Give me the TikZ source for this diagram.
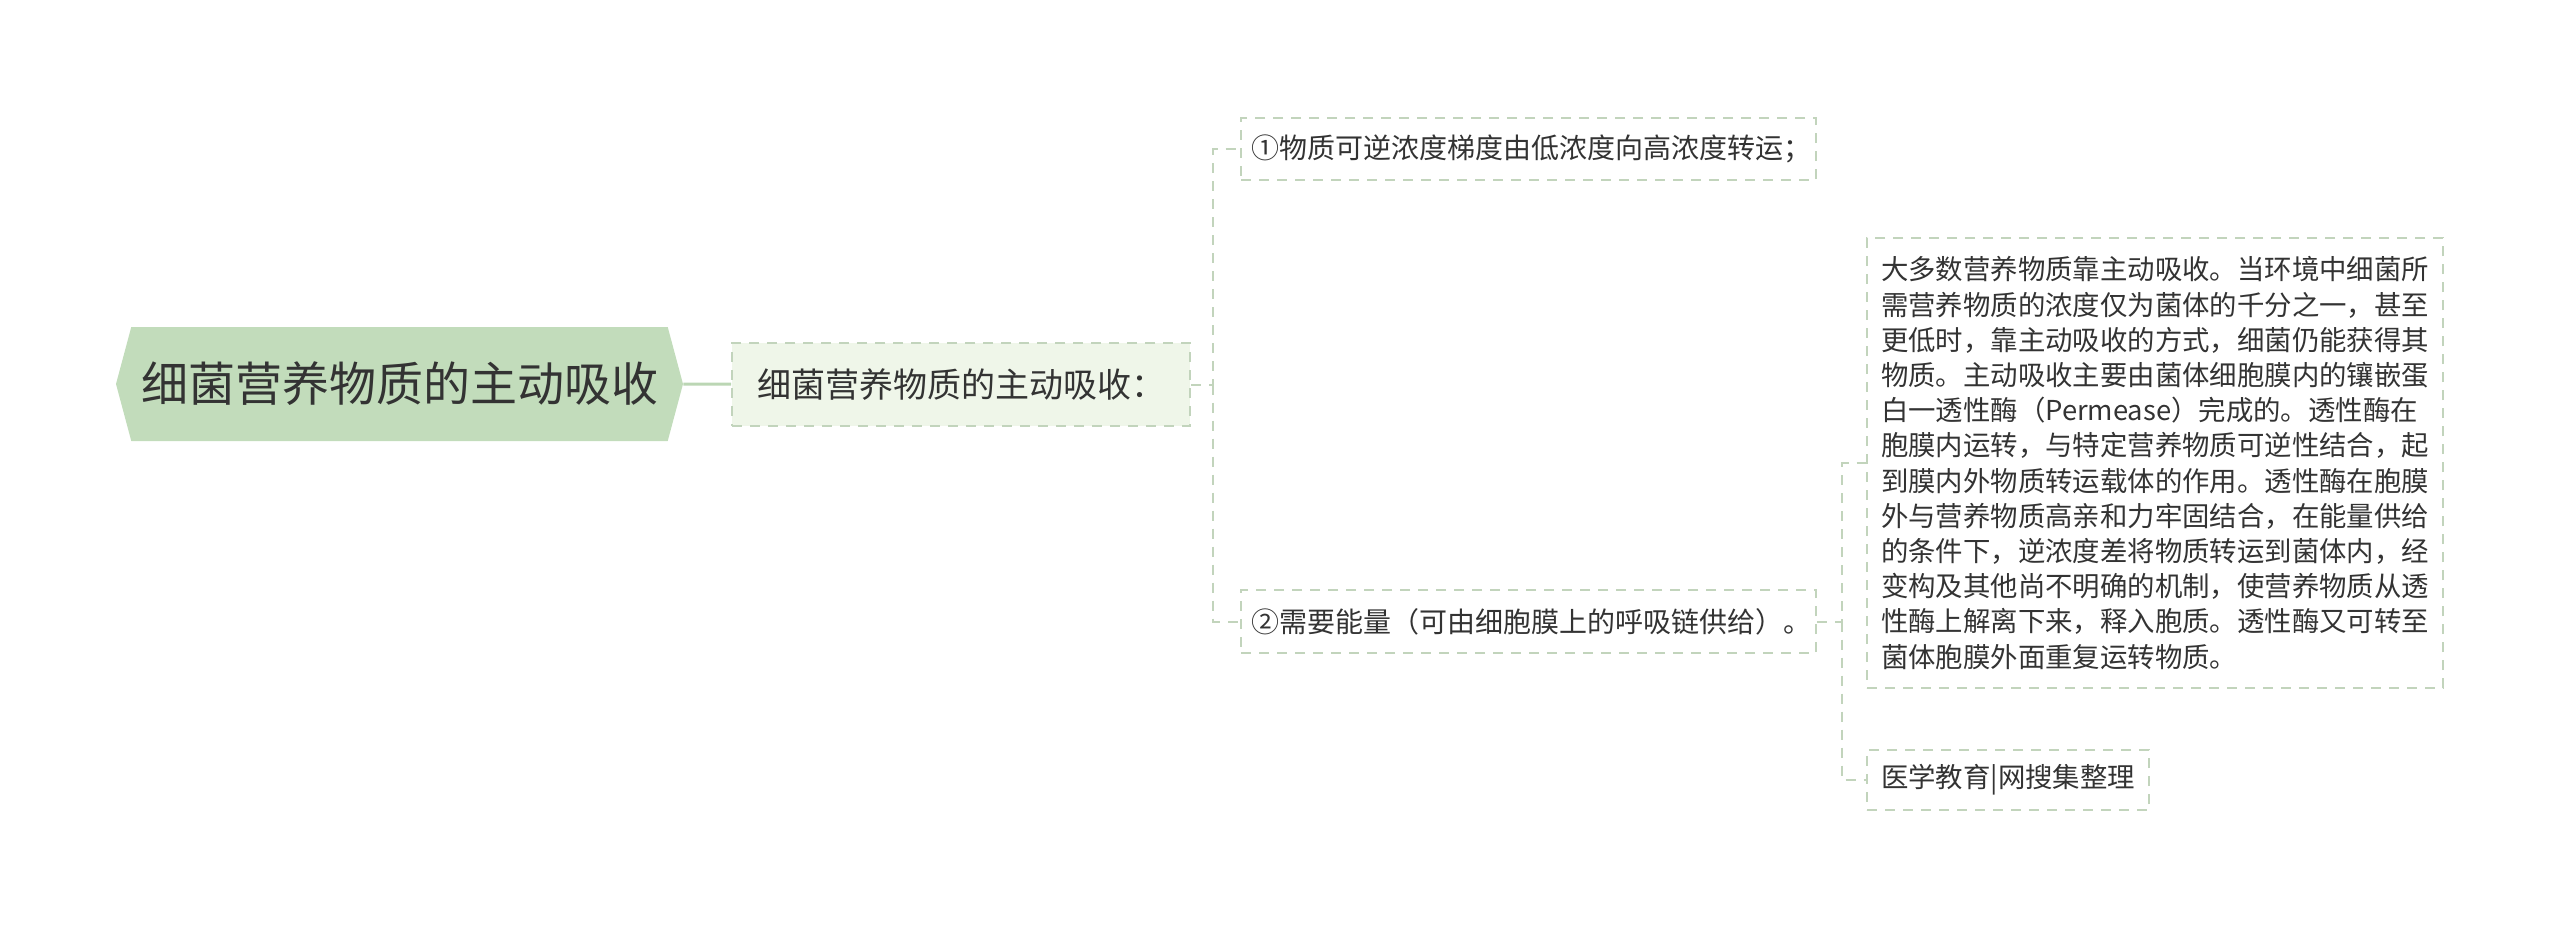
\documentclass[tikz,border=0pt]{standalone}
\usepackage{fontspec}
\setmainfont{Noto Sans CJK SC}
\usetikzlibrary{shapes.symbols}
\definecolor{rootfill}{HTML}{C2DCBB}
\definecolor{subfill}{HTML}{EFF6E9}
\definecolor{dashgreen}{HTML}{C2D4BC}
\definecolor{linkgreen}{HTML}{BBD6B4}
\definecolor{txtgray}{HTML}{333333}
\begin{document}
\begin{tikzpicture}[x=0.5pt,y=-0.5pt,
				root/.style={signal,signal to=west and east,signal pointer angle=150,fill=rootfill,text=txtgray,minimum width=283.5pt,minimum height=57pt,inner sep=0pt,font=\fontsize{23.5}{28}\selectfont},
				sub/.style={draw=dashgreen,fill=subfill,line width=1pt,dash pattern=on 5pt off 4pt,text=txtgray,minimum width=229pt,minimum height=41.5pt,inner sep=0pt,font=\fontsize{17}{20}\selectfont},
				leaf/.style={draw=dashgreen,fill=white,line width=1pt,dash pattern=on 5pt off 4pt,text=txtgray,inner sep=0pt,font=\fontsize{14}{17}\selectfont},
				link/.style={draw=dashgreen,line width=1pt,dash pattern=on 5pt off 4pt}]
			\useasboundingbox (0,0) rectangle (2560,928);
			\node [root] (bact) at (399.5,384) {细菌营养物质的主动吸收};
			\node [sub] (active) at (961,384.5) {细菌营养物质的主动吸收：}
				edge[-,draw=linkgreen,line width=1.5pt] (bact.east);
			\node [leaf,minimum width=287.5pt,minimum height=31pt] (grad) at (1528.5,149) {\hspace{3pt}①物质可逆浓度梯度由低浓度向高浓度转运；};
			\node [leaf,minimum width=287.5pt,minimum height=31.5pt] (energy) at (1528.5,621.5) {\hspace{3pt}②需要能量（可由细胞膜上的呼吸链供给）。};
			\node [leaf,minimum width=288pt,minimum height=225pt,text width=274pt,align=left,font=\fontsize{13.7}{17.6}\selectfont] (detail) at (2155,463) {大多数营养物质靠主动吸收。当环境中细菌所\\需营养物质的浓度仅为菌体的千分之一，甚至\\更低时，靠主动吸收的方式，细菌仍能获得其\\物质。主动吸收主要由菌体细胞膜内的镶嵌蛋\\白一透性酶（Permease）完成的。透性酶在\\胞膜内运转，与特定营养物质可逆性结合，起\\到膜内外物质转运载体的作用。透性酶在胞膜\\外与营养物质高亲和力牢固结合，在能量供给\\的条件下，逆浓度差将物质转运到菌体内，经\\变构及其他尚不明确的机制，使营养物质从透\\性酶上解离下来，释入胞质。透性酶又可转至\\菌体胞膜外面重复运转物质。};
			\node [leaf,minimum width=141pt,minimum height=30pt,font=\fontsize{13.7}{17}\selectfont] (src) at (2008,780) {医学教育|网搜集整理};
			\coordinate (fork1) at (1213,384.5);
			\coordinate (fork2) at (1842,621.5);
			\draw [link] (active.east) -- (fork1) |- (grad.west);
			\draw [link] (fork1) |- (energy.west);
			\draw [link] (energy.east) -- (fork2) |- (detail.west);
			\draw [link] (fork2) |- (src.west);
		\end{tikzpicture}
\end{document}
